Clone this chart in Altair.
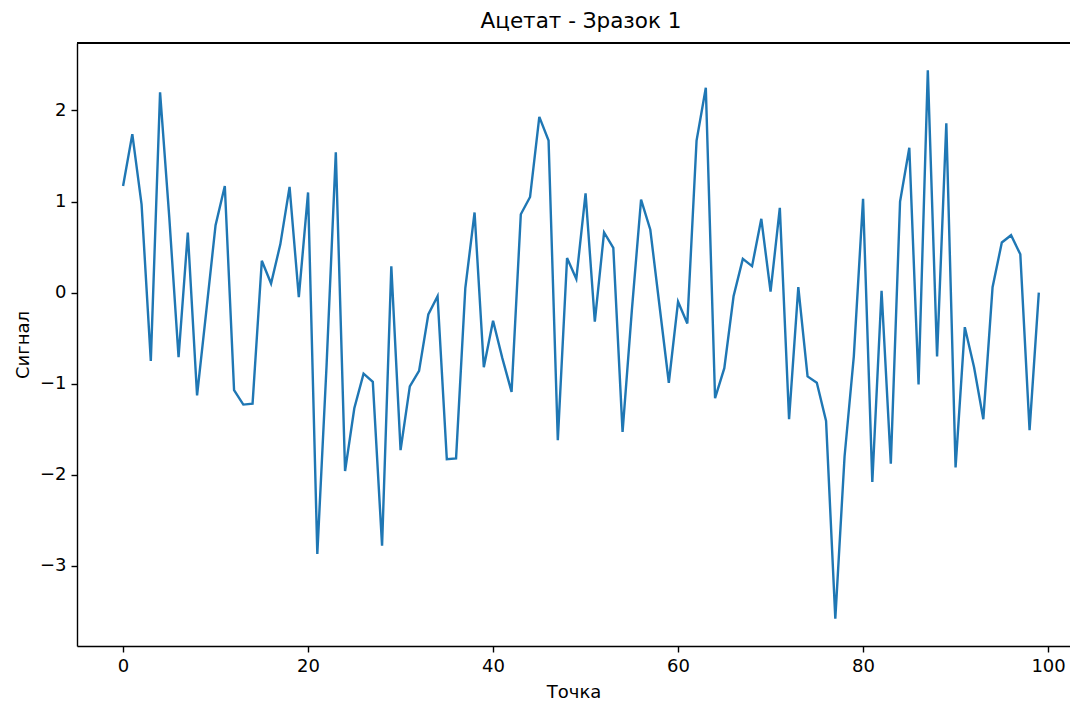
import altair as alt
import pandas as pd

points = list(range(100))
signal = [
    1.17, 1.74, 0.97, -0.75, 2.20, 0.82, -0.71, 0.66, -1.13, -0.20,
    0.74, 1.17, -1.07, -1.23, -1.22, 0.35, 0.10, 0.53, 1.16, -0.05,
    1.10, -2.87, -0.80, 1.54, -1.96, -1.27, -0.89, -0.98, -2.78, 0.29,
    -1.73, -1.03, -0.86, -0.24, -0.04, -1.83, -1.82, 0.05, 0.88, -0.82,
    -0.31, -0.72, -1.09, 0.86, 1.05, 1.93, 1.67, -1.62, 0.38, 0.15,
    1.09, -0.32, 0.66, 0.49, -1.53, -0.20, 1.02, 0.69, -0.15, -0.99,
    -0.10, -0.34, 1.67, 2.25, -1.16, -0.83, -0.04, 0.37, 0.29, 0.81,
    0.01, 0.93, -1.39, 0.06, -0.92, -0.99, -1.41, -3.58, -1.80, -0.70,
    1.03, -2.08, 0.02, -1.88, 1.00, 1.59, -1.01, 2.44, -0.70, 1.86,
    -1.92, -0.38, -0.82, -1.39, 0.06, 0.55, 0.63, 0.42, -1.51, 0.00,
]
x_ticks = [0, 20, 40, 60, 80, 100]
y_ticks = [-3, -2, -1, 0, 1, 2]

df = pd.DataFrame({"x": points, "y": signal})

font = "DejaVu Sans"
W, H = 993, 603
px_per_unit = 9.25
x_lo = -4.98
x_hi = x_lo + W / px_per_unit

line = alt.Chart(df).mark_line(color="#1f77b4", strokeWidth=2.4, clip=True).encode(
    x=alt.X("x:Q", title="Точка",
            scale=alt.Scale(domain=[x_lo, x_hi], nice=False, zero=False),
            axis=alt.Axis(values=x_ticks, format="d", titlePadding=8)),
    y=alt.Y("y:Q", title="Сигнал",
            scale=alt.Scale(domain=[-3.881, 2.741], nice=False, zero=False),
            axis=alt.Axis(values=y_ticks, format="d", titlePadding=7)),
)

top_spine = alt.Chart(df).mark_rule(color="black", strokeWidth=1.4).encode(
    x=alt.value(0), x2=alt.value(W), y=alt.value(0)
)

chart = alt.layer(line, top_spine).properties(
    width=W,
    height=H,
    title=alt.TitleParams("Ацетат - Зразок 1", font=font, fontSize=21.5,
                          fontWeight="normal", color="black", offset=10, dx=7.5),
    padding={"left": 69, "top": 35, "right": 0, "bottom": 54},
    autosize=alt.AutoSizeParams(type="none"),
).configure_view(
    stroke=None
).configure_axis(
    domain=True, domainColor="black", domainWidth=1.4, grid=False,
    ticks=True, tickColor="black", tickSize=6, tickWidth=1.4,
    labelFont=font, labelFontSize=18, labelColor="black", labelPadding=5,
    titleFont=font, titleFontSize=18, titleFontWeight="normal", titleColor="black",
)

chart.save("out.html", embed_options={"renderer": "svg", "actions": False})
